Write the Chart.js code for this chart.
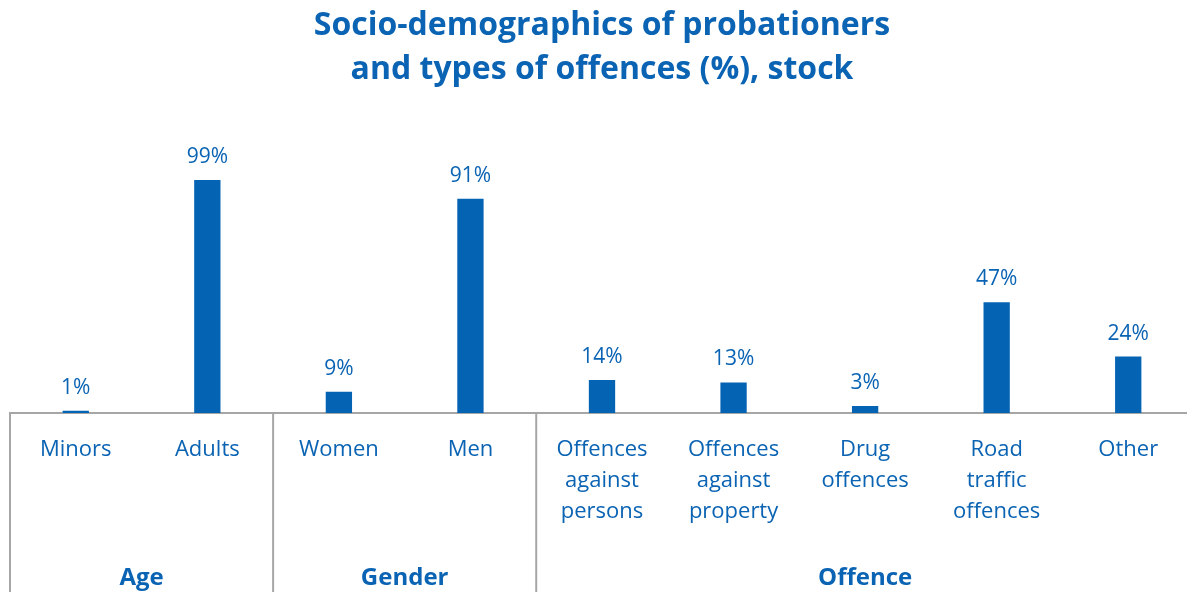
<!DOCTYPE html>
<html>
<head>
<meta charset="utf-8">
<script src="https://cdn.jsdelivr.net/npm/chart.js@4/dist/chart.umd.min.js"></script>
<style>
  html, body { margin: 0; padding: 0; background: #fff; overflow: hidden; }
  #wrap { width: 1200px; height: 592px; }
</style>
</head>
<body>
<div id="wrap"><canvas id="chart"></canvas></div>
<script>
// dane
const categories = [
  "Minors", "Adults", "Women", "Men",
  ["Offences", "against", "persons"],
  ["Offences", "against", "property"],
  ["Drug", "offences"],
  ["Road", "traffic", "offences"],
  "Other"
];
const values = [1, 99, 9, 91, 14, 13, 3, 47, 24];
const groupNames = ["Age", "Gender", "Offence"];
const groupSizes = [2, 2, 5];

const blue = "#0563b4";
const textBlue = "#0a63b3";
const lineGray = "#a6a6a6";
const font = "'Open Sans', 'Noto Sans', sans-serif";

// etykiety nad słupkami
const barLabels = {
  id: "barLabels",
  afterDatasetsDraw(chart) {
    const ctx = chart.ctx;
    const meta = chart.getDatasetMeta(0);
    ctx.save();
    ctx.fillStyle = textBlue;
    ctx.font = "21px " + font;
    ctx.textAlign = "center";
    ctx.textBaseline = "alphabetic";
    meta.data.forEach((bar, i) => {
      ctx.fillText(values[i] + "%", bar.x, bar.y - 17);
    });
    ctx.restore();
  }
};

// grupy pod osią X i linie pionowe
const groupAxis = {
  id: "groupAxis",
  afterDraw(chart) {
    const ctx = chart.ctx;
    const xs = chart.scales.x;
    const area = chart.chartArea;
    const step = xs.getPixelForValue(1) - xs.getPixelForValue(0);
    ctx.save();
    ctx.strokeStyle = lineGray;
    ctx.lineWidth = 2;
    ctx.fillStyle = textBlue;
    ctx.font = "bold 24px " + font;
    ctx.textAlign = "center";
    ctx.textBaseline = "middle";
    let start = 0;
    groupSizes.forEach((n, g) => {
      const left = xs.getPixelForValue(start) - step / 2;
      const right = xs.getPixelForValue(start + n - 1) + step / 2;
      ctx.beginPath();
      ctx.moveTo(left, area.bottom);
      ctx.lineTo(left, chart.height);
      ctx.stroke();
      ctx.fillText(groupNames[g], (left + right) / 2, 578);
      start += n;
    });
    ctx.restore();
  }
};

new Chart("chart", {
  type: "bar",
  data: {
    labels: categories,
    datasets: [{
      data: values,
      backgroundColor: blue,
      barPercentage: 0.4,
      categoryPercentage: 0.5
    }]
  },
  plugins: [barLabels, groupAxis],
  options: {
    responsive: true,
    maintainAspectRatio: false,
    animation: false,
    layout: { padding: { left: 10, right: 6, top: 0, bottom: 0 } },
    plugins: {
      legend: { display: false },
      tooltip: { enabled: false },
      title: {
        display: true,
        text: ["Socio-demographics of probationers", "and types of offences (%), stock"],
        color: textBlue,
        font: { family: font, size: 32, weight: "bold", lineHeight: 1.4 },
        padding: { top: 3, bottom: 85 }
      }
    },
    scales: {
      y: {
        display: false,
        min: 0,
        max: 100
      },
      x: {
        grid: { display: false, drawTicks: false },
        border: { display: true, color: lineGray, width: 2 },
        ticks: {
          color: textBlue,
          font: { family: font, size: 22, lineHeight: "31px" },
          padding: 21,
          maxRotation: 0,
          autoSkip: false
        },
        afterFit(scale) { scale.height = 179; }
      }
    }
  }
});
</script>
</body>
</html>
